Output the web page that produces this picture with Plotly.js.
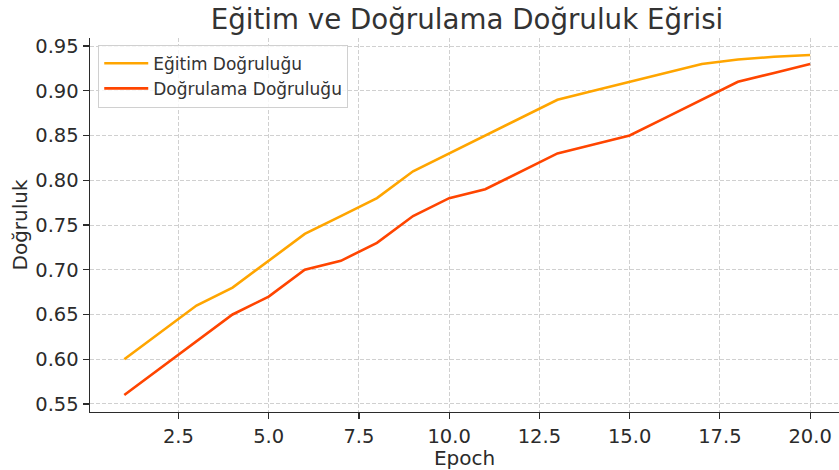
<!DOCTYPE html>
<html>
<head>
<meta charset="utf-8">
<script src="https://cdn.plot.ly/plotly-3.0.1.min.js"></script>
<style>html,body{margin:0;padding:0;background:#fff;}#chart{width:839px;height:470px;}</style>
</head>
<body>
<div id="chart"></div>
<script>
const epochs = [1,2,3,4,5,6,7,8,9,10,11,12,13,14,15,16,17,18,19,20];
const trainAcc = [0.60,0.63,0.66,0.68,0.71,0.74,0.76,0.78,0.81,0.83,0.85,0.87,0.89,0.90,0.91,0.92,0.93,0.935,0.938,0.94];
const valAcc = [0.56,0.59,0.62,0.65,0.67,0.70,0.71,0.73,0.76,0.78,0.79,0.81,0.83,0.84,0.85,0.87,0.89,0.91,0.92,0.93];
const seriesNames = ["Eğitim Doğruluğu","Doğrulama Doğruluğu"];
const xTicks = [2.5,5.0,7.5,10.0,12.5,15.0,17.5,20.0];
const yTicks = [0.55,0.60,0.65,0.70,0.75,0.80,0.85,0.90,0.95];

const font = "DejaVu Sans, sans-serif";
const txt = "#2b2b2b";
const traces = [
  {x: epochs, y: trainAcc, name: seriesNames[0], mode: "lines", line: {color: "#FFA500", width: 2.6}},
  {x: epochs, y: valAcc, name: seriesNames[1], mode: "lines", line: {color: "#FF4500", width: 2.6}}
];
const axisCommon = {
  ticks: "outside", ticklen: 6, tickwidth: 1.2, tickcolor: txt,
  showline: true, linecolor: txt, linewidth: 1.4, mirror: false,
  showgrid: true, gridcolor: "#d0d0d0", griddash: "4px,2px", gridwidth: 1,
  zeroline: false, tickfont: {family: font, size: 19.5, color: txt}
};
const layout = {
  width: 839, height: 470,
  margin: {l: 90, r: 0, t: 38, b: 58},
  paper_bgcolor: "#fff", plot_bgcolor: "#fff",
  font: {family: font, color: txt},
  title: {text: "Eğitim ve Doğrulama Doğruluk Eğrisi", font: {family: font, size: 27.7, color: "#333333"}, xref: "container", x: 0.5566, xanchor: "center", y: 0.958, yanchor: "middle"},
  xaxis: Object.assign({}, axisCommon, {
    range: [0.05, 20.8], tickvals: xTicks, ticktext: xTicks.map(v => v.toFixed(1)),
    title: {text: "Epoch", font: {family: font, size: 20, color: txt}, standoff: 3}
  }),
  yaxis: Object.assign({}, axisCommon, {
    range: [0.541, 0.959], tickvals: yTicks, ticktext: yTicks.map(v => v.toFixed(2)),
    title: {text: "Doğruluk", font: {family: font, size: 20, color: txt}, standoff: 2}
  }),
  showlegend: true,
  legend: {
    x: 0.011, y: 0.982, xanchor: "left", yanchor: "top",
    bgcolor: "rgba(255,255,255,0.8)", bordercolor: "#d0d0d0", borderwidth: 1,
    font: {family: font, size: 17, color: "#333333"}, tracegroupgap: 2, itemwidth: 44
  }
};
Plotly.newPlot("chart", traces, layout, {displayModeBar: false, staticPlot: true});
</script>
</body>
</html>
